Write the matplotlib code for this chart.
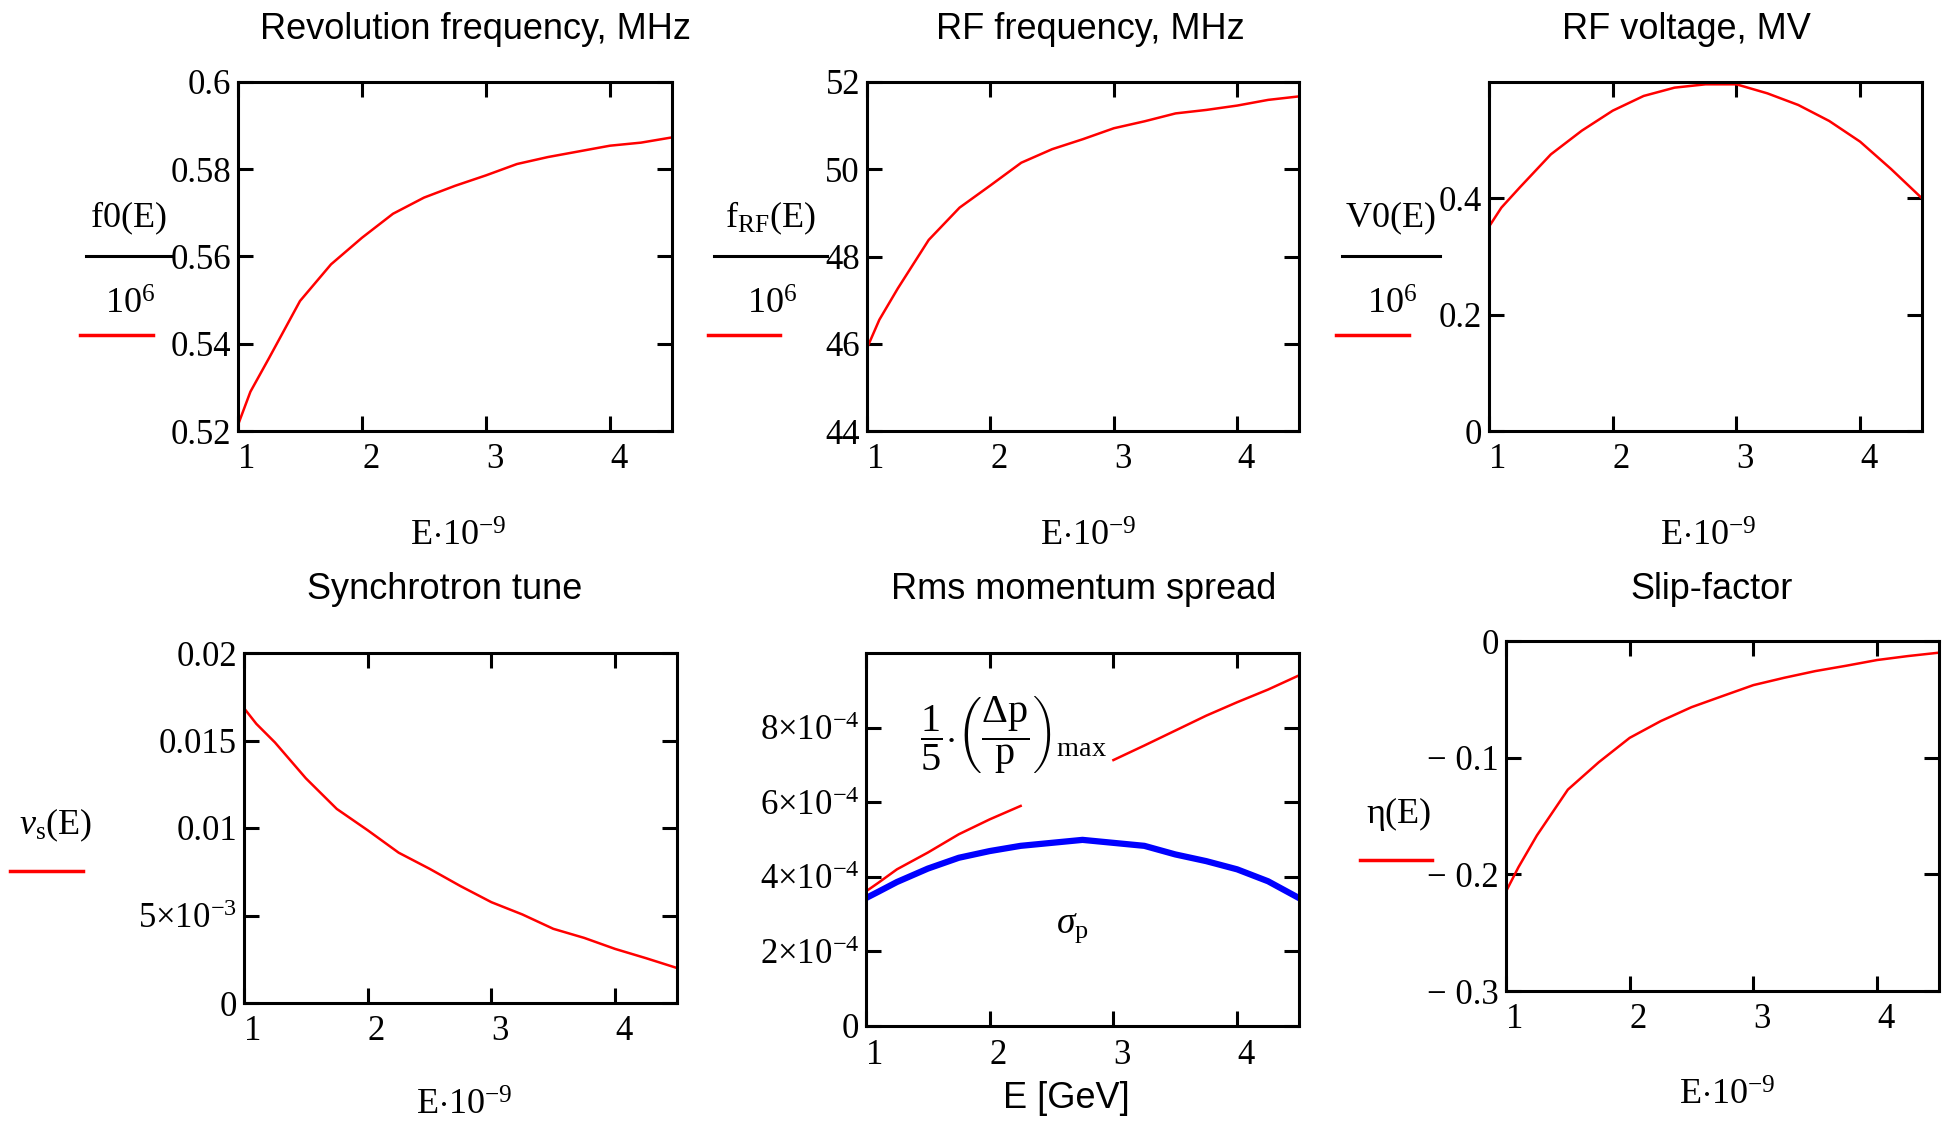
import numpy as np
import matplotlib
matplotlib.use("Agg")
import matplotlib.pyplot as plt
from matplotlib.lines import Line2D

plt.rcParams['font.family'] = 'Liberation Serif'
plt.rcParams['mathtext.fontset'] = 'custom'
plt.rcParams['mathtext.rm'] = 'Liberation Serif'
plt.rcParams['mathtext.it'] = 'Liberation Serif:italic'
plt.rcParams['mathtext.bf'] = 'Liberation Serif:bold'

nan = np.nan

# kinetic energy, GeV
E = [1.0, 1.1, 1.25, 1.5, 1.75, 2.0, 2.25, 2.5, 2.75, 3.0, 3.25, 3.5, 3.75, 4.0, 4.25, 4.5]

f0 = [0.5214, 0.5290, 0.5367, 0.5498, 0.5582, 0.5643, 0.5698, 0.5735, 0.5762, 0.5786,
      0.5812, 0.5828, 0.5841, 0.5854, 0.5861, 0.5873]            # MHz
f_rf = [45.90, 46.55, 47.27, 48.38, 49.12, 49.63, 50.15, 50.46, 50.69, 50.94,
        51.10, 51.28, 51.36, 51.46, 51.59, 51.67]                # MHz
V0 = [0.3513, 0.384, 0.419, 0.4756, 0.5163, 0.5507, 0.576, 0.5903, 0.596, 0.596,
      0.5805, 0.5605, 0.533, 0.4974, 0.4504, 0.400]              # MV
nu_s = [0.01685, 0.01595, 0.01489, 0.01284, 0.01109, 0.00987, 0.00859, 0.00767, 0.00668, 0.00576,
        0.00506, 0.00424, 0.00372, 0.00309, 0.00256, 0.00200]
# x1e-4; nan where the trace runs under its label
dp_max5 = [3.61, 3.84, 4.20, 4.65, 5.14, 5.54, 5.90, nan, nan, 7.13,
           7.52, 7.92, 8.32, 8.68, 9.02, 9.40]
sigma_p = [3.43, 3.60, 3.86, 4.22, 4.51, 4.69, 4.83, 4.91, 4.99, 4.91,
           4.83, 4.60, 4.42, 4.20, 3.88, 3.43]                   # x1e-4
eta = [-0.2147, -0.194, -0.1666, -0.1274, -0.1039, -0.0830, -0.0687, -0.0567, -0.0472, -0.0378,
       -0.0315, -0.0258, -0.0212, -0.0163, -0.0129, -0.0100]

W, H = 1952, 1122
RED = '#ff0000'
BLUE = '#0000ff'
XLAB = r'$\mathrm{E{\cdot}10^{-9}}$'


def fx(px):
    return px / W


def fy(py):
    return 1 - py / H


fig = plt.figure(figsize=(W / 100, H / 100), dpi=100)


def make_axes(left, top, right, bottom):
    ax = fig.add_axes([fx(left), fy(bottom), (right - left) / W, (bottom - top) / H])
    ax.set_xlim(1, 4.5)
    ax.set_xticks([1, 2, 3, 4])
    ax.set_xticklabels(['1', '2', '3', '4'], ha='left')
    ax.tick_params(direction='in', length=11, width=2.2, top=True, right=True,
                   labelsize=25)
    ax.tick_params(axis='x', pad=9)
    ax.tick_params(axis='y', pad=5)
    for s in ax.spines.values():
        s.set_linewidth(2.2)
    return ax


def title(x, y, s):
    fig.text(fx(x), fy(y), s, family='Liberation Sans', fontsize=26,
             ha='center', va='baseline')


def xlabel(x, y, s, family='Liberation Serif'):
    fig.text(fx(x), fy(y), s, family=family, fontsize=26, ha='center', va='baseline')


def trace_mark(x0, x1, y):
    fig.add_artist(Line2D([fx(x0), fx(x1)], [fy(y), fy(y)], color=RED, lw=2.5))


def frac_label(xc, num, den, bar):
    fig.text(fx(xc), fy(227), num, fontsize=26, ha='center', va='baseline')
    fig.add_artist(Line2D([fx(bar[0]), fx(bar[1])], [fy(256), fy(256)], color='black', lw=2.2))
    fig.text(fx(xc + 2), fy(314), den, fontsize=26, ha='center', va='baseline')


# Revolution frequency
ax = make_axes(238, 82, 672, 431)
ax.plot(E, f0, color=RED, lw=1.8)
ax.set_ylim(0.52, 0.6)
ax.set_yticks([0.52, 0.54, 0.56, 0.58, 0.6])
ax.set_yticklabels(['0.52', '0.54', '0.56', '0.58', '0.6'])
title(475, 39, 'Revolution frequency, MHz')
xlabel(458, 546, XLAB)
frac_label(128, r'$\mathrm{f0(E)}$', r'$10^{6}$', (86, 172))
trace_mark(80, 153, 335)

# RF frequency
ax = make_axes(867, 82, 1299, 431)
ax.plot(E, f_rf, color=RED, lw=1.8)
ax.set_ylim(44, 52)
ax.set_yticks([44, 46, 48, 50, 52])
ax.set_yticklabels(['44', '46', '48', '50', '52'])
title(1090, 39, 'RF frequency, MHz')
xlabel(1088, 546, XLAB)
frac_label(770, r'$\mathrm{f_{RF}(E)}$', r'$10^{6}$', (714, 827))
trace_mark(708, 780, 335)

# RF voltage
ax = make_axes(1489, 82, 1922, 431)
ax.plot(E, V0, color=RED, lw=1.8)
ax.set_ylim(0, 0.6)
ax.set_yticks([0, 0.2, 0.4])
ax.set_yticklabels(['0', '0.2', '0.4'])
title(1686, 39, 'RF voltage, MV')
xlabel(1708, 546, XLAB)
frac_label(1390, r'$\mathrm{V0(E)}$', r'$10^{6}$', (1342, 1440))
trace_mark(1336, 1409, 335)

# Synchrotron tune
ax = make_axes(244, 653, 677, 1003)
ax.plot(E, nu_s, color=RED, lw=1.8)
ax.set_ylim(0, 0.02)
ax.set_yticks([0, 0.005, 0.01, 0.015, 0.02])
ax.set_yticklabels(['0', r'$5{\times}10^{-3}$', '0.01', '0.015', '0.02'])
title(445, 599, 'Synchrotron tune')
xlabel(464, 1115, XLAB)
fig.text(fx(56), fy(834), r'$\nu_{\mathrm{s}}\mathrm{(E)}$', fontsize=26,
         ha='center', va='baseline')
trace_mark(10, 83, 871)

# Rms momentum spread
ax = make_axes(866, 653, 1299, 1026)
ax.plot(E, np.array(dp_max5) * 1e-4, color=RED, lw=1.8)
ax.plot(E, np.array(sigma_p) * 1e-4, color=BLUE, lw=4.5)
ax.set_ylim(0, 1e-3)
ax.set_yticks([0, 2e-4, 4e-4, 6e-4, 8e-4])
ax.set_yticklabels(['0'] + [r'$%d{\times}10^{-4}$' % k for k in (2, 4, 6, 8)])
title(1084, 599, 'Rms momentum spread')
xlabel(1066, 1108, 'E [GeV]', family='Liberation Sans')
fig.text(fx(1014), fy(734),
         r'$\dfrac{1}{5}{\cdot}\left(\dfrac{\Delta\mathrm{p}}{\mathrm{p}}\right)_{\mathrm{max}}$',
         fontsize=29, ha='center', va='center')
fig.text(fx(1072), fy(928), r'$\sigma_{\mathrm{p}}$', fontsize=27, ha='center', va='center')

# Slip-factor
ax = make_axes(1506, 641, 1939, 991)
ax.plot(E, eta, color=RED, lw=1.8)
ax.set_ylim(-0.3, 0)
ax.set_yticks([-0.3, -0.2, -0.1, 0])
ax.set_yticklabels(['\u2212 0.3', '\u2212 0.2', '\u2212 0.1', '0'])
title(1712, 599, 'Slip-factor')
xlabel(1727, 1105, XLAB)
fig.text(fx(1399), fy(823), '\u03b7(E)', fontsize=26, ha='center', va='baseline')
trace_mark(1360, 1432, 860)

fig.savefig('out.png', dpi=100)
